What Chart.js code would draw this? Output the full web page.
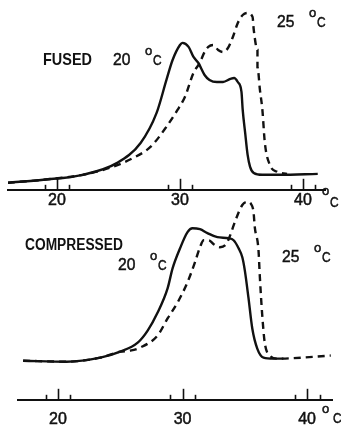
<!DOCTYPE html>
<html>
<head>
<meta charset="utf-8">
<script src="https://cdn.jsdelivr.net/npm/chart.js@4.4.0/dist/chart.umd.min.js"></script>
<style>
  html, body { margin: 0; padding: 0; background: #fff; overflow: hidden; }
  body { width: 341px; height: 429px; position: relative; }
  canvas { position: absolute; left: 0; display: block; }
  #fused { top: 0; }
  #compressed { top: 195px; }
</style>
</head>
<body>
<canvas id="fused" width="341" height="211"></canvas>
<canvas id="compressed" width="341" height="250"></canvas>
<script>
// temperature (°C) and signal (arbitrary, 0-100)
const fused20T = [16.0, 18.9, 22.1, 24.9, 26.8, 28.1, 28.9, 29.4, 30.0, 30.2, 30.7, 31.1, 31.5, 32.0, 32.4, 33.0, 33.5, 34.1, 34.4, 34.7, 35.0, 35.1, 35.3, 35.5, 35.7, 36.0, 36.7, 38.1, 41.2];
const fused20V = [3.7, 5.3, 7.9, 14.2, 24.7, 40.5, 57.9, 68.4, 76.3, 77.4, 75.3, 70.0, 66.8, 60.5, 57.9, 56.8, 56.8, 58.4, 58.9, 56.8, 51.6, 42.1, 30.0, 18.4, 12.1, 8.9, 7.9, 7.9, 8.4];

const fused25T = [16.0, 18.9, 22.1, 24.3, 26.2, 27.6, 28.9, 29.8, 30.4, 31.1, 31.6, 32.0, 32.3, 32.7, 33.1, 33.5, 33.9, 34.3, 34.7, 35.1, 35.5, 35.9, 36.0, 36.3, 36.3, 36.5, 36.7, 36.9, 37.3, 37.9, 38.7];
const fused25V = [3.7, 5.3, 7.9, 11.6, 16.8, 22.6, 33.2, 42.1, 48.9, 61.6, 66.8, 72.6, 75.3, 76.3, 73.7, 72.6, 74.7, 80.5, 87.9, 92.1, 93.2, 91.1, 84.2, 73.7, 64.7, 52.6, 42.1, 24.7, 13.2, 9.5, 8.4];

const comp20T = [17.2, 20.7, 23.4, 25.0, 26.4, 27.2, 28.0, 28.8, 29.2, 29.8, 30.4, 30.8, 31.4, 32.0, 32.8, 33.7, 34.1, 34.5, 34.8, 35.0, 35.3, 35.6, 36.0, 36.5, 37.3, 38.1];
const comp20V = [19.1, 18.6, 20.6, 23.5, 27.9, 33.8, 42.6, 54.4, 64.2, 74.0, 81.9, 83.8, 83.3, 81.4, 79.4, 78.9, 77.9, 74.0, 69.6, 63.2, 49.5, 34.8, 25.0, 20.6, 20.1, 20.1];

const comp25T = [17.2, 20.7, 23.4, 25.0, 25.8, 26.6, 28.0, 28.8, 29.6, 30.4, 31.0, 31.4, 31.7, 32.1, 32.5, 33.0, 33.5, 33.8, 34.2, 34.8, 35.2, 35.5, 35.7, 35.8, 36.1, 36.2, 36.4, 36.6, 37.0, 37.6, 41.9];
const comp25V = [19.1, 18.6, 20.6, 23.5, 24.0, 25.5, 31.4, 39.7, 47.5, 57.4, 67.2, 74.5, 77.9, 77.9, 76.0, 74.5, 76.0, 79.9, 86.8, 95.1, 96.6, 95.6, 91.7, 84.3, 73.0, 60.8, 41.2, 27.9, 21.6, 20.1, 21.6];

const tickLabels = [20, 30, 40];
const minorTicks = [19, 21, 29, 31, 39, 41];

const ink = '#111';
const face = "'Liberation Sans', Arial, sans-serif";

function pts(xs, ys) {
  return xs.map((x, i) => ({ x: x, y: ys[i] }));
}

// axis tick marks pointing up + free text on the plot
const decor = {
  id: 'decor',
  afterDraw(chart, args, opts) {
    const ctx = chart.ctx;
    const sx = chart.scales.x;
    const y0 = chart.chartArea.bottom;
    ctx.save();
    ctx.strokeStyle = ink;
    ctx.lineWidth = 1.6;
    tickLabels.forEach(v => {
      const px = Math.round(sx.getPixelForValue(v)) + 0.5;
      ctx.beginPath(); ctx.moveTo(px, y0); ctx.lineTo(px, y0 - 11); ctx.stroke();
    });
    minorTicks.forEach(v => {
      const px = Math.round(sx.getPixelForValue(v)) + 0.5;
      ctx.beginPath(); ctx.moveTo(px, y0); ctx.lineTo(px, y0 - 5); ctx.stroke();
    });
    ctx.fillStyle = ink;
    ctx.lineWidth = 0.5;
    ctx.textBaseline = 'alphabetic';
    opts.notes.forEach(n => {
      ctx.save();
      ctx.translate(n.x, n.y);
      ctx.scale(n.k || 0.9, 1);
      ctx.font = n.f + ' ' + face;
      ctx.fillText(n.t, 0, 0);
      if (!n.bold) ctx.strokeText(n.t, 0, 0);
      ctx.restore();
    });
    ctx.restore();
  }
};

function degNote(num, x, y) {
  return [
    { t: num, x: x, y: y, f: '17px', k: 0.92 },
    { t: 'o', x: x + 32, y: y - 10, f: '13px', k: 1 },
    { t: 'C', x: x + 40, y: y, f: '14px', k: 0.85 }
  ];
}

function makeChart(id, s20, s25, xr, pad, tickPad, notes) {
  return new Chart(document.getElementById(id), {
    type: 'line',
    data: {
      datasets: [
        { label: '20 °C', data: s20, borderColor: ink, borderWidth: 2.4, pointRadius: 0, cubicInterpolationMode: 'monotone', fill: false },
        { label: '25 °C', data: s25, borderColor: ink, borderWidth: 2.4, borderDash: [7, 5], pointRadius: 0, cubicInterpolationMode: 'monotone', fill: false }
      ]
    },
    options: {
      responsive: false,
      animation: false,
      layout: { padding: pad },
      plugins: { legend: { display: false }, tooltip: { enabled: false }, decor: { notes: notes } },
      scales: {
        x: {
          type: 'linear', min: xr[0], max: xr[1],
          afterBuildTicks: s => { s.ticks = tickLabels.map(v => ({ value: v })); },
          grid: { display: false, drawTicks: false },
          border: { display: true, color: ink, width: 2 },
          ticks: {
            color: ink, padding: tickPad, maxRotation: 0, autoSkip: false,
            textStrokeColor: ink, textStrokeWidth: 0.5,
            font: { family: face, size: 16 }
          }
        },
        y: { display: false, min: 0, max: 100 }
      }
    },
    plugins: [decor]
  });
}

makeChart('fused', pts(fused20T, fused20V), pts(fused25T, fused25V), [16.02, 41.79],
  { left: 8, right: 16, top: 0, bottom: 0 }, 1,
  [{ t: 'FUSED', x: 43, y: 65, f: 'bold 17px', k: 0.85, bold: true }]
    .concat(degNote('20', 113, 65))
    .concat(degNote('25', 277, 27))
    .concat([{ t: 'o', x: 322, y: 195, f: '13px', k: 1 }, { t: 'C', x: 330, y: 207, f: '14px', k: 0.85 }]));

makeChart('compressed', pts(comp20T, comp20V), pts(comp25T, comp25V), [16.79, 42.0],
  { left: 18, right: 9, top: 0, bottom: 6 }, 10,
  [{ t: 'COMPRESSED', x: 25, y: 55, f: 'bold 16px', k: 0.86, bold: true }]
    .concat(degNote('20', 118, 75))
    .concat(degNote('25', 282, 67))
    .concat([{ t: 'o', x: 322, y: 218, f: '13px', k: 1 }, { t: 'C', x: 333, y: 228, f: '14px', k: 0.85 }]));
</script>
</body>
</html>
